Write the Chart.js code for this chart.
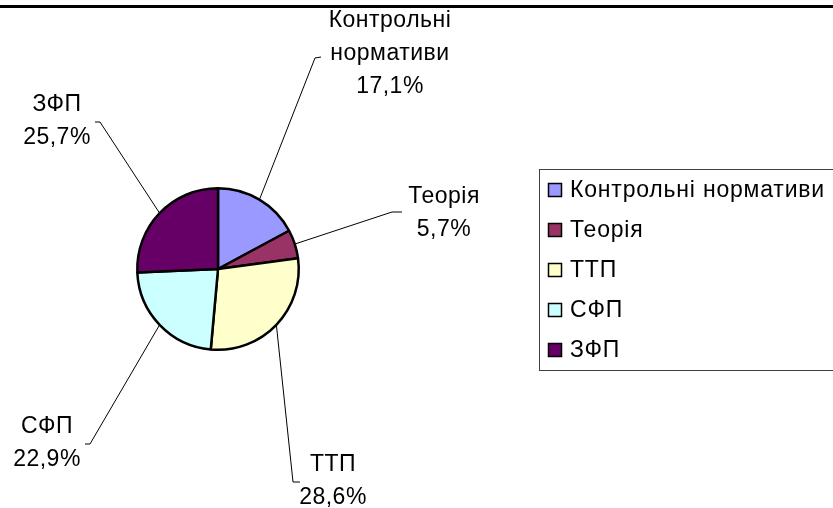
<!DOCTYPE html>
<html>
<head>
<meta charset="utf-8">
<script src="https://cdn.jsdelivr.net/npm/chart.js@4.4.1/dist/chart.umd.min.js"></script>
<style>
  html, body { margin: 0; padding: 0; background: #fff; }
  #wrap { position: relative; width: 833px; height: 508px; }
</style>
</head>
<body>
<div id="wrap"><canvas id="pieChart" width="833" height="508"></canvas></div>
<script>
const categories = ['Контрольні нормативи', 'Теорія', 'ТТП', 'СФП', 'ЗФП'];
const values = [6, 2, 10, 8, 9];
const colors = ['#9999FF', '#993366', '#FFFFCC', '#CCFFFF', '#660066'];

// where each data label sits (text centre x, first line y) and the leader elbow
const labelSpots = [
  { lines: ['Контрольні', 'нормативи'], x: 390, y: 21, elbow: [315, 58], tip: [321, 57] },
  { lines: ['Теорія'], x: 444, y: 197, elbow: [392, 212], tip: [402, 212] },
  { lines: ['ТТП'], x: 333, y: 465, elbow: [293, 482], tip: [300, 482] },
  { lines: ['СФП'], x: 47, y: 427, elbow: [90, 444], tip: [85, 444] },
  { lines: ['ЗФП'], x: 57, y: 105, elbow: [100, 122], tip: [95, 122] }
];
const FONT = '23px "Liberation Sans", Arial, sans-serif';
const LINE_H = 33;

const total = values.reduce((a, b) => a + b, 0);
const pct = v => (v / total * 100).toFixed(1).replace('.', ',') + '%';

const labelPlugin = {
  id: 'excelLabels',
  afterDraw(chart) {
    const c = chart.ctx;
    const arcs = chart.getDatasetMeta(0).data;
    c.save();
    // frame line at the top
    c.fillStyle = '#000';
    c.fillRect(0, 5, 833, 3);

    arcs.forEach((arc, i) => {
      const s = labelSpots[i];
      const mid = (arc.startAngle + arc.endAngle) / 2;
      const ex = arc.x + Math.cos(mid) * arc.outerRadius;
      const ey = arc.y + Math.sin(mid) * arc.outerRadius;
      c.strokeStyle = '#000';
      c.lineWidth = 1;
      c.beginPath();
      c.moveTo(ex, ey);
      c.lineTo(s.elbow[0], s.elbow[1]);
      c.lineTo(s.tip[0], s.tip[1]);
      c.stroke();

      c.fillStyle = '#000';
      c.font = FONT;
      c.letterSpacing = '0.5px';
      c.textAlign = 'center';
      c.textBaseline = 'middle';
      const lines = s.lines.concat([pct(values[i])]);
      lines.forEach((t, k) => c.fillText(t, s.x, s.y + k * LINE_H));
    });

    // legend box
    c.strokeStyle = '#404040';
    c.lineWidth = 1;
    c.strokeRect(539.5, 169.5, 400, 201);
    c.font = '23px "Liberation Sans", Arial, sans-serif';
    c.letterSpacing = '0.8px';
    c.textAlign = 'left';
    categories.forEach((name, i) => {
      const cy = 190 + i * 40;
      c.fillStyle = colors[i];
      c.fillRect(548.5, cy - 6.5, 13, 13);
      c.strokeStyle = '#000';
      c.lineWidth = 1.5;
      c.strokeRect(548.5, cy - 6.5, 13, 13);
      c.fillStyle = '#000';
      c.fillText(name, 570, cy + 1);
    });
    c.restore();
  }
};

new Chart(document.getElementById('pieChart'), {
  type: 'pie',
  data: {
    labels: categories,
    datasets: [{
      data: values,
      backgroundColor: colors,
      borderColor: '#000',
      borderWidth: 2.5
    }]
  },
  options: {
    responsive: false,
    animation: false,
    layout: { padding: { left: 136, top: 187, right: 533, bottom: 157 } },
    plugins: {
      legend: { display: false },
      tooltip: { enabled: false }
    }
  },
  plugins: [labelPlugin]
});
</script>
</body>
</html>
